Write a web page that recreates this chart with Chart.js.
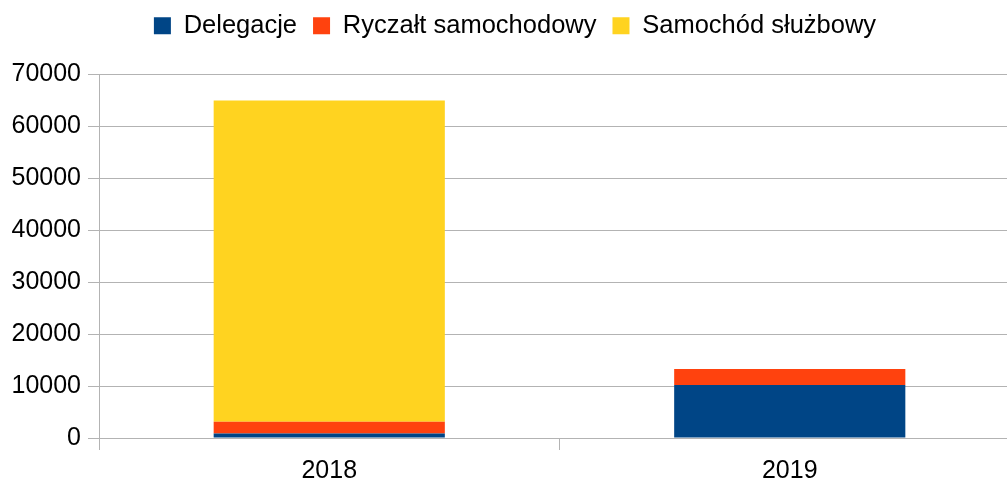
<!DOCTYPE html>
<html><head><meta charset="utf-8">
<script src="https://cdn.jsdelivr.net/npm/chart.js@4/dist/chart.umd.min.js"></script>
<style>html,body{margin:0;padding:0;overflow:hidden;background:#fff}#wrap{width:1020px;height:492px}</style>
</head><body><div id="wrap"><canvas id="c" width="1020" height="492"></canvas></div>
<script>
const categories = ['2018', '2019'];
const delegacje = [850, 10200];
const ryczalt = [2300, 3070];
const samochod = [61850, 0];
const yTicks = [0, 10000, 20000, 30000, 40000, 50000, 60000, 70000];

const FONT = "'Liberation Sans', Arial, sans-serif";
const TOP_PAD = 23;
const legendShift = {
  id: 'legendShift',
  afterLayout(chart) {
    const lg = chart.legend;
    if (!lg) return;
    const dy = -(TOP_PAD + 3), dx = 5;
    lg.top += dy; lg.bottom += dy; lg.left += dx; lg.right += dx;
  }
};
new Chart(document.getElementById('c'), {
  type: 'bar',
  data: {
    labels: categories,
    datasets: [
      {label: 'Delegacje', data: delegacje, backgroundColor: '#004586'},
      {label: 'Ryczałt samochodowy', data: ryczalt, backgroundColor: '#ff420e'},
      {label: 'Samochód służbowy', data: samochod, backgroundColor: '#ffd320'}
    ]
  },
  plugins: [legendShift],
  options: {
    responsive: false,
    animation: false,
    layout: {padding: {left: 0, right: 0, top: TOP_PAD, bottom: 0}},
    datasets: {bar: {barPercentage: 0.502, categoryPercentage: 1}},
    plugins: {
      legend: {
        position: 'top',
        labels: {font: {family: FONT, size: 25.5}, color: '#000', boxWidth: 17, boxHeight: 17, padding: 16},
        onClick: null
      },
      tooltip: {enabled: false}
    },
    scales: {
      x: {
        stacked: true,
        offset: true,
        grid: {offset: true, drawOnChartArea: false, drawTicks: true, tickLength: 12, color: '#b3b3b3'},
        border: {color: '#b3b3b3'},
        ticks: {font: {family: FONT, size: 25}, color: '#000', padding: 6}
      },
      y: {
        stacked: true,
        min: 0, max: 70000,
        afterBuildTicks: s => { s.ticks = yTicks.map(v => ({value: v})); },
        afterFit: s => { s.width = 99; },
        grid: {color: '#b3b3b3', tickLength: 11},
        border: {color: '#b3b3b3'},
        ticks: {font: {family: FONT, size: 25}, color: '#000', padding: 7, callback: v => String(v)}
      }
    }
  }
});
</script></body></html>
